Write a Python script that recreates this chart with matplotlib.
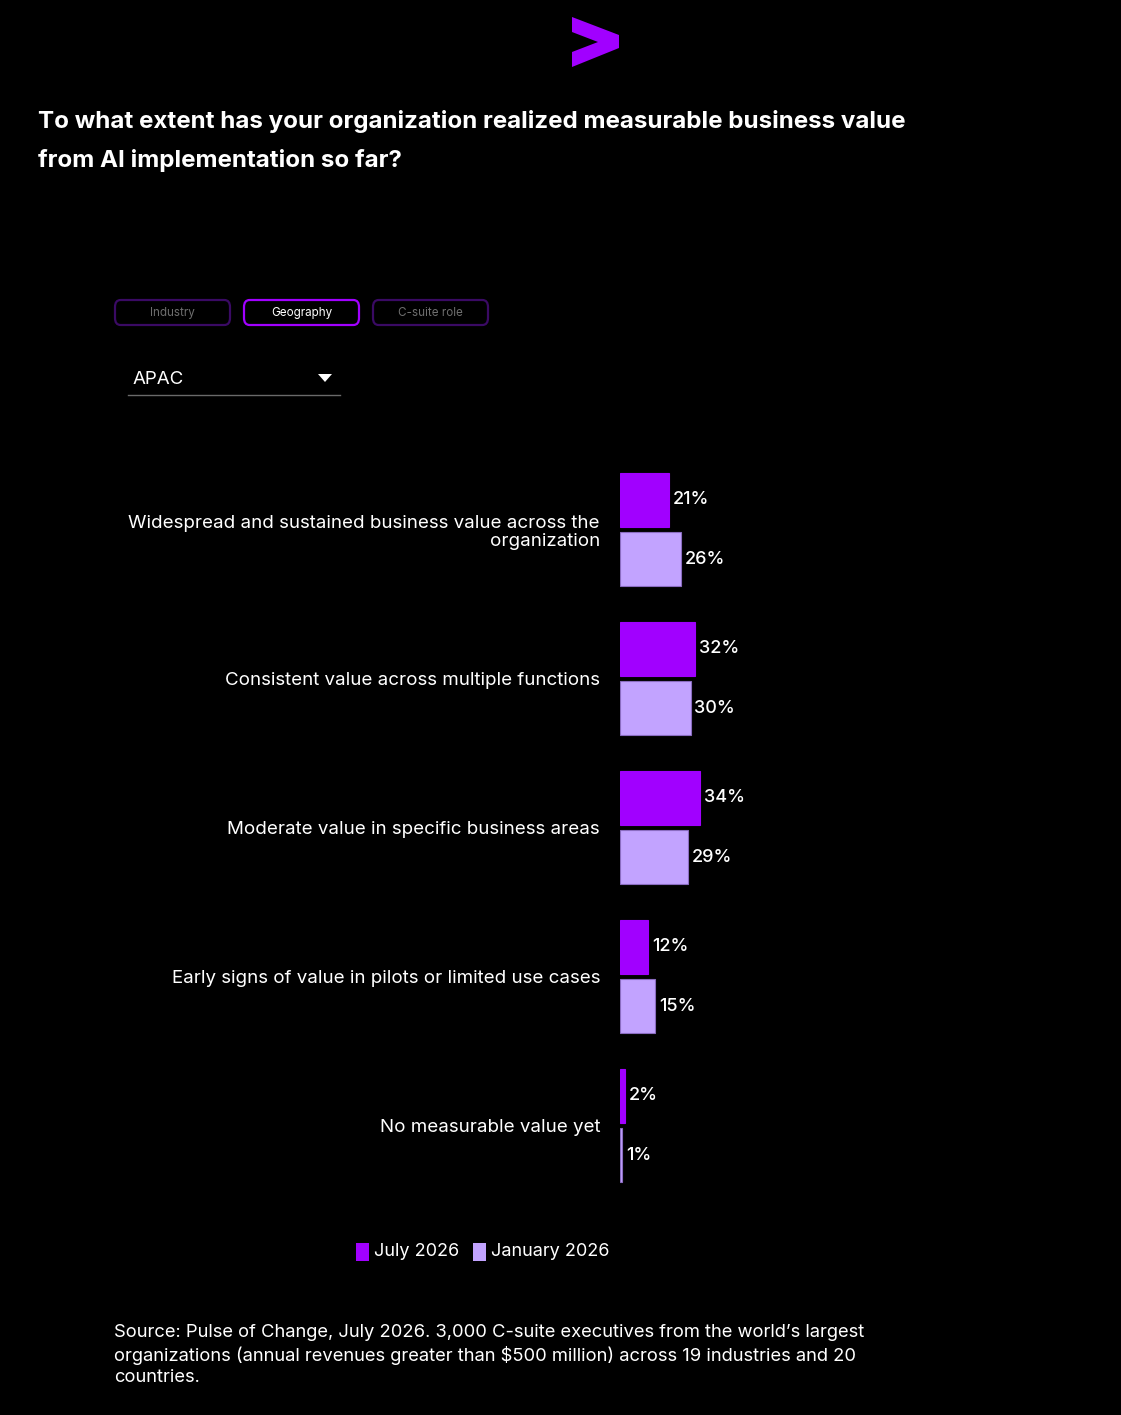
import matplotlib
matplotlib.use("Agg")
import matplotlib.pyplot as plt
from matplotlib.patches import FancyBboxPatch, Polygon, Rectangle
import numpy as np

plt.rcParams['font.family'] = ['Inter', 'DejaVu Sans']

# data
categories = [
    "Widespread and sustained business value across the\norganization",
    "Consistent value across multiple functions",
    "Moderate value in specific business areas",
    "Early signs of value in pilots or limited use cases",
    "No measurable value yet",
]
july_2026 = [21, 32, 34, 12, 2]
jan_2026 = [26, 30, 29, 15, 1]
series_names = ["July 2026", "January 2026"]
tabs = ["Industry", "Geography", "C-suite role"]
selected_tab = "Geography"
region = "APAC"
title = ("To what extent has your organization realized measurable business value\n"
         "from AI implementation so far?")
source = ("Source: Pulse of Change, July 2026. 3,000 C-suite executives from the world\u2019s largest\n"
          "organizations (annual revenues greater than $500 million) across 19 industries and 20\n"
          "countries.")

PURPLE = "#A100FF"
LAVENDER = "#C2A3FF"
BG = "#000000"

W, H = 1121, 1415
fig = plt.figure(figsize=(W / 100, H / 100), dpi=100, facecolor=BG)


def fx(px):
    return px / W


def fy(py):
    return 1 - py / H


# logo
logo = [(572, 17), (619, 35), (619, 48), (572, 67), (572, 52), (598, 42), (572, 32)]
fig.patches.append(Polygon([(fx(x), fy(y)) for x, y in logo], closed=True,
                           transform=fig.transFigure, facecolor=PURPLE, edgecolor='none'))

# title
fig.text(fx(38), fy(141), title, color='white', fontsize=17.4, fontweight='bold',
         ha='left', va='center', linespacing=1.85)

# tabs
tab_x = [115, 244, 373]
for name, x0 in zip(tabs, tab_x):
    active = name == selected_tab
    box = FancyBboxPatch((fx(x0), fy(325)), fx(115), 25 / H,
                         boxstyle="round,pad=0,rounding_size=0.005",
                         transform=fig.transFigure, facecolor='none',
                         edgecolor=PURPLE if active else '#3a0a64', linewidth=1.6)
    fig.patches.append(box)
    fig.text(fx(x0 + 57.5), fy(313), name, color='white' if active else '#6e6e6e',
             fontsize=8.4, ha='center', va='center')

# dropdown
fig.text(fx(133), fy(379), region, color='white', fontsize=13.5, ha='left', va='center')
tri = [(318, 374), (332, 374), (325, 382)]
fig.patches.append(Polygon([(fx(x), fy(y)) for x, y in tri], closed=True,
                           transform=fig.transFigure, facecolor='white', edgecolor='none'))
fig.lines.append(plt.Line2D([fx(128), fx(340)], [fy(395), fy(395)], transform=fig.transFigure,
                            color='#6a6a6a', linewidth=1))

# chart
ax = fig.add_axes([fx(620), fy(1200), fx(480), 745 / H])
ax.set_facecolor(BG)
ypos = np.arange(len(categories))
bh = 54 / 149
off = 29.75 / 149
b1 = ax.barh(ypos - off, july_2026, height=bh, color=PURPLE, edgecolor=PURPLE, linewidth=0.8)
b2 = ax.barh(ypos + off, jan_2026, height=bh, color=LAVENDER, edgecolor='#8a6cc0', linewidth=0.8)
ax.set_xlim(0, 480 / 2.35)
ax.set_ylim(4.5, -0.5)
for bars, vals in ((b1, july_2026), (b2, jan_2026)):
    for bar, v in zip(bars, vals):
        ax.text(v + 1.6, bar.get_y() + bar.get_height() / 2, f"{v}%", color='white',
                fontsize=13, fontweight='medium', ha='left', va='center')
ax.set_yticks(ypos)
ax.set_yticklabels(categories, color='white', fontsize=13.5, linespacing=1.15)
ax.tick_params(axis='y', length=0, pad=14.4)
ax.set_xticks([])
for s in ax.spines.values():
    s.set_visible(False)

# legend
leg_items = [(356, PURPLE, 374), (473, LAVENDER, 491)]
for (sx, col, tx), name in zip(leg_items, series_names):
    fig.patches.append(Rectangle((fx(sx), fy(1261)), fx(13), 18 / H, transform=fig.transFigure,
                                 facecolor=col, edgecolor='none'))
    fig.text(fx(tx), fy(1252), name, color='white', fontsize=13, ha='left', va='center')

# source
fig.text(fx(114), fy(1355), source, color='white', fontsize=13.25, ha='left', va='center',
         linespacing=1.33)

fig.savefig("out.png", dpi=100, facecolor=BG)
